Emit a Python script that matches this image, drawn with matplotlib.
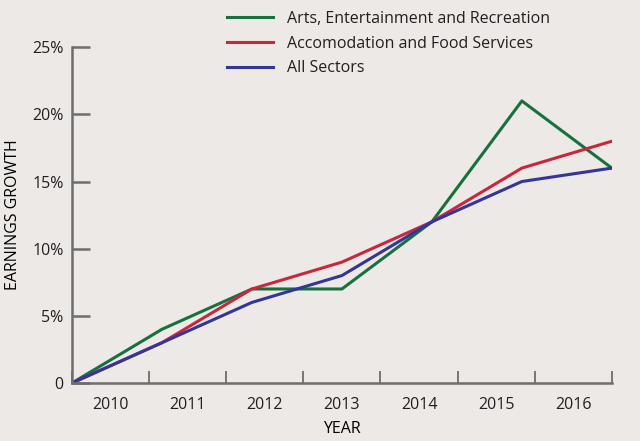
import numpy as np
import matplotlib
matplotlib.use('Agg')
from matplotlib import pyplot as plt

years = ['2010', '2011', '2012', '2013', '2014', '2015', '2016']
arts = [0, 4, 7, 7, 12, 21, 16]
accom = [0, 3, 7, 9, 12, 16, 18]
all_sectors = [0, 3, 6, 8, 12, 15, 16]
y_ticks = [0, 5, 10, 15, 20, 25]
y_labels = ['0', '5%', '10%', '15%', '20%', '25%']

plt.rcParams['font.family'] = ['Open Sans', 'DejaVu Sans']
plt.rcParams['text.color'] = '#231f20'
plt.rcParams['xtick.labelcolor'] = '#231f20'
plt.rcParams['ytick.labelcolor'] = '#231f20'
bg = '#ede9e6'
axis_col = '#6e6e6e'

fig = plt.figure(figsize=(6.4, 4.41), dpi=100, facecolor=bg)
ax = fig.add_axes([0.1125, 0.1315, 0.8435, 0.7615], facecolor=bg)

x = np.arange(len(years))
ax.plot(x, arts, color='#17703d', lw=2.2, label='Arts, Entertainment and Recreation')
ax.plot(x, accom, color='#c9273d', lw=2.2, label='Accomodation and Food Services')
ax.plot(x, all_sectors, color='#34359a', lw=2.2, label='All Sectors')

n = len(years)
ax.set_xlim(0, n - 1)
ax.set_ylim(0, 25)
# tick marks between years, labels centred in each bin
bins = np.linspace(0, n - 1, n + 1)
ax.set_xticks(bins)
ax.set_xticklabels([])
ax.set_xticks((bins[:-1] + bins[1:]) / 2, minor=True)
ax.set_xticklabels(years, minor=True)
ax.tick_params(axis='x', which='major', direction='in', length=9, width=1.3, color=axis_col)
ax.tick_params(axis='x', which='minor', length=0, pad=10, labelsize=11.5)
ax.set_yticks(y_ticks)
ax.set_yticklabels(y_labels)
ax.tick_params(axis='y', direction='in', length=13, width=1.8, color=axis_col, pad=6, labelsize=11.5)

for s in ['top', 'right']:
    ax.spines[s].set_visible(False)
for s in ['left', 'bottom']:
    ax.spines[s].set_color(axis_col)
    ax.spines[s].set_linewidth(1.8)

ax.set_xlabel('YEAR', fontsize=11.5, labelpad=6)
ax.set_ylabel('EARNINGS GROWTH', fontsize=11.5, labelpad=8)

ax.legend(loc='upper left', bbox_to_anchor=(0.26, 1.151), frameon=False,
          fontsize=11.5, handlelength=2.9, handletextpad=0.85, labelspacing=0.55)

fig.savefig('out.png', dpi=100, facecolor=bg)
